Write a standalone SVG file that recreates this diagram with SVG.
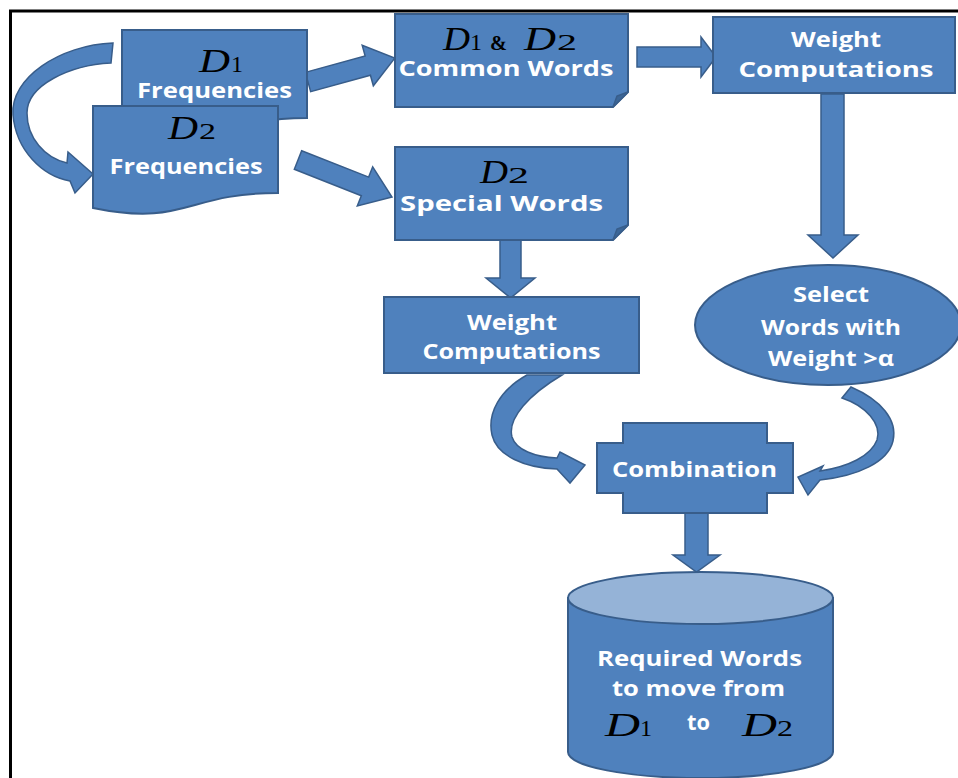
<svg xmlns="http://www.w3.org/2000/svg" width="958" height="778" viewBox="0 0 958 778">
  <style>
    .shape { fill:#4f81bd; stroke:#385d8a; stroke-width:2; stroke-linejoin:miter; }
    .fold { fill:#3b6698; stroke:#385d8a; stroke-width:1.5; }
    .top { fill:#95b3d7; stroke:#385d8a; stroke-width:2; }
    .arrow { fill:#4f81bd; stroke:#385d8a; stroke-width:1.5; }
    .lbl { font-family:"Open Sans","Liberation Sans",sans-serif; font-weight:700; font-size:21px; fill:#ffffff; text-anchor:middle; }
    .dv { font-family:"Liberation Serif","Times New Roman",serif; font-style:italic; font-size:34px; fill:#000000; }
    .dn { font-family:"Liberation Serif","Times New Roman",serif; font-size:24px; fill:#000000; }
    .amp { font-family:"Liberation Serif","Times New Roman",serif; font-weight:700; font-size:20px; fill:#000000; }
  </style>

  <rect x="0" y="0" width="958" height="778" fill="#ffffff"/>
  <!-- frame -->
  <path d="M9,11 H958 M10.5,10 V778" stroke="#000" stroke-width="3" fill="none"/>

  <!-- connectors -->
  <g id="connectors">
    <!-- curved arrow D1 -> D2 -->
    <path class="arrow" d="M113,43 C60,45 10,78 13,115 C16,150 42,176 70,181 L75,193 L93,174 L68,152 L67,163 C45,158 27,138 27,113 C27,85 70,65 111,63 Z"/>
    <!-- D1 -> common words -->
    <polygon class="arrow" transform="translate(308,82) rotate(-15.4)" points="0,-10 62,-10 62,-21 90,0 62,21 62,10 0,10"/>
    <!-- D2 -> special words -->
    <polygon class="arrow" transform="translate(298,160) rotate(21.5)" points="0,-10 72,-10 72,-21 101,0 72,21 72,10 0,10"/>
    <!-- common words -> weight computations -->
    <polygon class="arrow" points="637,47 701,47 701,37 716,57 701,77 701,67 637,67"/>
    <!-- weight computations -> select -->
    <polygon class="arrow" points="821,94 844,94 844,235 858,235 833,258 808,235 821,235"/>
    <!-- special words -> weight computations -->
    <polygon class="arrow" points="500,240 521,240 521,278 535,278 510.5,298 486,278 500,278"/>
    <!-- curved arrow weight computations -> combination -->
    <path class="arrow" d="M527,375 C500,390 487,413 492,435 C497,456 525,468 557,469 L570,483 L585,465 L560,452 L557,458 C535,457 516,450 512,437 C507,418 530,394 562,375 Z"/>
    <!-- curved arrow select -> combination -->
    <path class="arrow" d="M851,387 C881,400 898,420 893,441 C888,462 858,476 820,480 L808,495 L798,477 L823,466 L820,471 C848,467 871,456 877,440 C882,424 866,406 842,398 Z"/>
    <!-- combination -> stored words -->
    <polygon class="arrow" points="685,513 708,513 708,555 720,555 696.5,572 673,555 685,555"/>
  </g>

  <!-- D1 frequencies -->
  <g id="d1-frequencies">
    <path class="shape" d="M122,30 H307 V118 C214.5,118 214.5,152 122,133 Z"/>
    <text class="dv" x="199" y="72" textLength="31" lengthAdjust="spacingAndGlyphs">D</text>
    <text class="dn" x="231" y="72" textLength="12" lengthAdjust="spacingAndGlyphs">1</text>
    <text class="lbl" x="214.5" y="98" textLength="155" lengthAdjust="spacingAndGlyphs">Frequencies</text>
  </g>

  <!-- D2 frequencies -->
  <g id="d2-frequencies">
    <path class="shape" d="M93,106 H278 V193 C185.5,193 185.5,227 93,208 Z"/>
    <text class="dv" x="168" y="139" textLength="30" lengthAdjust="spacingAndGlyphs">D</text>
    <text class="dn" x="199" y="139" textLength="17" lengthAdjust="spacingAndGlyphs">2</text>
    <text class="lbl" x="186" y="174" textLength="153" lengthAdjust="spacingAndGlyphs">Frequencies</text>
  </g>

  <!-- common words -->
  <g id="common-words">
    <path class="shape" d="M395,14 H628 V92 L613,107 H395 Z"/>
    <path class="fold" d="M613,107 L617,96 L628,92 Z"/>
    <text class="dv" x="443" y="50" font-size="31" textLength="27" lengthAdjust="spacingAndGlyphs">D</text>
    <text class="dn" x="470" y="50" font-size="22" textLength="12" lengthAdjust="spacingAndGlyphs">1</text>
    <text class="amp" x="490" y="50" font-size="21" textLength="17" lengthAdjust="spacingAndGlyphs">&amp;</text>
    <text class="dv" x="524" y="50" font-size="31" textLength="32" lengthAdjust="spacingAndGlyphs">D</text>
    <text class="dn" x="557" y="50" font-size="22" textLength="20" lengthAdjust="spacingAndGlyphs">2</text>
    <text class="lbl" x="506" y="76" textLength="215" lengthAdjust="spacingAndGlyphs">Common Words</text>
  </g>

  <!-- special words -->
  <g id="special-words">
    <path class="shape" d="M395,147 H628 V225 L613,240 H395 Z"/>
    <path class="fold" d="M613,240 L617,229 L628,225 Z"/>
    <text class="dv" x="480" y="183" font-size="31" textLength="28" lengthAdjust="spacingAndGlyphs">D</text>
    <text class="dn" x="508" y="183" font-size="22" textLength="21" lengthAdjust="spacingAndGlyphs">2</text>
    <text class="lbl" x="501.5" y="211" textLength="203" lengthAdjust="spacingAndGlyphs">Special Words</text>
  </g>

  <!-- weight computations (common words) -->
  <g id="weight-common">
    <rect class="shape" x="713" y="17" width="242" height="76"/>
    <text class="lbl" x="836" y="47" textLength="90" lengthAdjust="spacingAndGlyphs">Weight</text>
    <text class="lbl" x="836" y="77" textLength="195" lengthAdjust="spacingAndGlyphs">Computations</text>
  </g>

  <!-- weight computations (special words) -->
  <g id="weight-special">
    <rect class="shape" x="384" y="297" width="255" height="76"/>
    <text class="lbl" x="512" y="330" textLength="90" lengthAdjust="spacingAndGlyphs">Weight</text>
    <text class="lbl" x="511.5" y="359" textLength="178" lengthAdjust="spacingAndGlyphs">Computations</text>
  </g>

  <!-- select words -->
  <g id="select-words">
    <ellipse class="shape" cx="828" cy="325" rx="133" ry="60"/>
    <text class="lbl" x="831" y="302" textLength="76" lengthAdjust="spacingAndGlyphs">Select</text>
    <text class="lbl" x="831" y="335" textLength="140" lengthAdjust="spacingAndGlyphs">Words with</text>
    <text class="lbl" x="831" y="366" textLength="126" lengthAdjust="spacingAndGlyphs">Weight &gt;α</text>
  </g>

  <!-- combination -->
  <g id="combination">
    <polygon class="shape" points="623,423 767,423 767,443 793,443 793,493 767,493 767,513 623,513 623,493 597,493 597,443 623,443"/>
    <text class="lbl" x="694.5" y="477" textLength="165" lengthAdjust="spacingAndGlyphs">Combination</text>
  </g>

  <!-- required words store -->
  <g id="required-words">
    <path class="shape" d="M568,598 V752 A132.5,26 0 0,0 833,752 V598 Z"/>
    <ellipse class="top" cx="700.5" cy="598" rx="132.5" ry="26"/>
    <text class="lbl" x="699.5" y="666" textLength="205" lengthAdjust="spacingAndGlyphs">Required Words</text>
    <text class="lbl" x="698.5" y="696" textLength="173" lengthAdjust="spacingAndGlyphs">to move from</text>
    <text class="dv" x="605" y="736" font-size="36" textLength="35" lengthAdjust="spacingAndGlyphs">D</text>
    <text class="dn" x="640" y="736" font-size="25" textLength="12" lengthAdjust="spacingAndGlyphs">1</text>
    <text class="lbl" x="698.5" y="730" textLength="23" lengthAdjust="spacingAndGlyphs">to</text>
    <text class="dv" x="742" y="736" font-size="36" textLength="35" lengthAdjust="spacingAndGlyphs">D</text>
    <text class="dn" x="777" y="736" font-size="25" textLength="16" lengthAdjust="spacingAndGlyphs">2</text>
  </g>
</svg>
